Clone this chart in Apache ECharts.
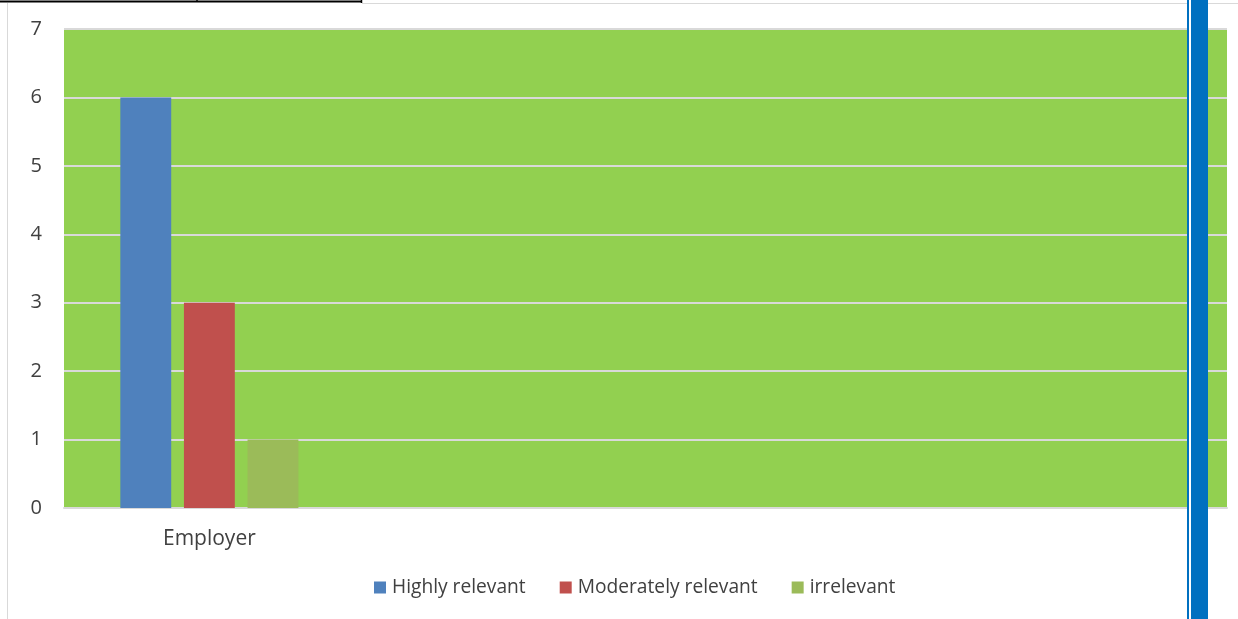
<!DOCTYPE html>
<html><head><meta charset="utf-8">
<script src="https://cdn.jsdelivr.net/npm/echarts@6/dist/echarts.min.js"></script>
<style>html,body{margin:0;padding:0;background:#fff}#c{width:1238px;height:619px}</style>
</head><body><div id="c"></div>
<script>
const categories = ["Employer", "", "", ""];
const highlyRelevant = [6, null, null, null];
const moderatelyRelevant = [3, null, null, null];
const irrelevant = [1, null, null, null];
const yTicks = [0, 1, 2, 3, 4, 5, 6, 7];

const chart = echarts.init(document.getElementById('c'));
const font = "'Open Sans', 'Noto Sans', sans-serif";
const mk = (name, data, color) => ({
  name, type: 'bar', data, barWidth: '17.5%', barGap: '25%',
  itemStyle: { color }
});
chart.setOption({
  animation: false,
  textStyle: { fontFamily: font },
  grid: { left: 64, right: 11, top: 29, bottom: 111, show: true, backgroundColor: '#92d050', borderWidth: 0 },
  legend: {
    bottom: 17, left: 369, itemWidth: 12, itemHeight: 12, itemGap: 34,
    icon: 'rect',
    textStyle: { fontSize: 19.2, color: '#404040', fontFamily: font, padding: [0, 0, 0, 1] }
  },
  xAxis: {
    type: 'category', data: categories,
    axisLine: { lineStyle: { color: '#d9d9d9', width: 2 } },
    axisTick: { show: false },
    axisLabel: { fontSize: 21, color: '#404040', margin: 21 }
  },
  yAxis: {
    type: 'value', min: yTicks[0], max: yTicks[yTicks.length - 1], interval: 1,
    axisLine: { show: false }, axisTick: { show: false },
    axisLabel: { fontSize: 20, color: '#404040', margin: 22 },
    splitLine: { lineStyle: { color: '#d9d9d9', width: 2 } }
  },
  series: [
    mk('Highly relevant', highlyRelevant, '#4f81bd'),
    mk('Moderately relevant', moderatelyRelevant, '#c0504d'),
    mk('irrelevant', irrelevant, '#9bbb59')
  ],
  graphic: [
    { type: 'line', shape: { x1: 362, y1: 3.5, x2: 1238, y2: 3.5 }, style: { stroke: '#d9d9d9', lineWidth: 1 } },
    { type: 'line', shape: { x1: 7.5, y1: 3, x2: 7.5, y2: 619 }, style: { stroke: '#d9d9d9', lineWidth: 1 } },
    { type: 'line', shape: { x1: 0, y1: 1.5, x2: 362, y2: 1.5 }, style: { stroke: '#000', lineWidth: 2 } },
    { type: 'line', shape: { x1: 197, y1: 0, x2: 197, y2: 2 }, style: { stroke: '#000', lineWidth: 1.5 } },
    { type: 'line', shape: { x1: 361.5, y1: 0, x2: 361.5, y2: 3 }, style: { stroke: '#000', lineWidth: 1.5 } },
    { type: 'rect', z: 100, shape: { x: 1187, y: 0, width: 2, height: 619 }, style: { fill: '#0070c0' } },
    { type: 'rect', z: 100, shape: { x: 1189, y: 0, width: 2, height: 619 }, style: { fill: '#ffffff' } },
    { type: 'rect', z: 100, shape: { x: 1191, y: 0, width: 17, height: 619 }, style: { fill: '#0070c0' } }
  ]
});
</script></body></html>
